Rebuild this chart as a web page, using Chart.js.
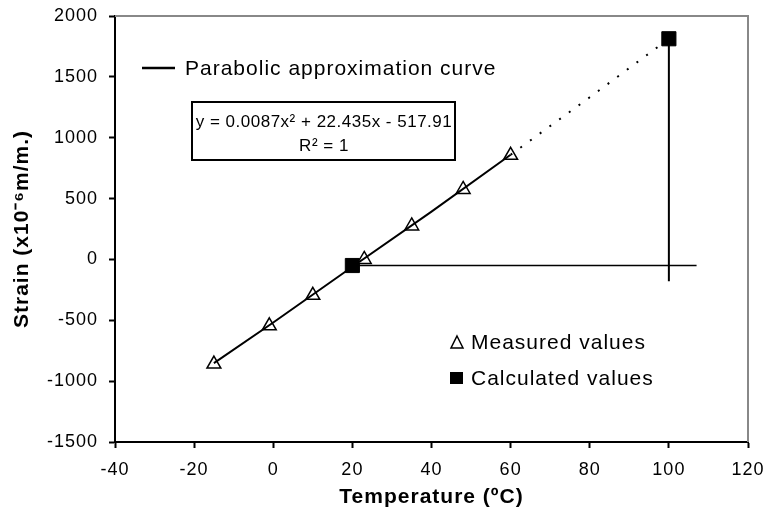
<!DOCTYPE html>
<html>
<head>
<meta charset="utf-8">
<script src="https://cdn.jsdelivr.net/npm/chart.js@4/dist/chart.umd.min.js"></script>
<style>
  html, body { margin: 0; padding: 0; background: #fff; }
  #wrap { width: 765px; height: 519px; }
</style>
</head>
<body>
<div id="wrap"><canvas id="chart" width="765" height="519"></canvas></div>
<script>
// Values
const measuredTemp = [-15, -1, 10, 23, 35, 48, 60];
const measuredStrain = [-860, -545, -295, 0, 275, 575, 855];

const calculatedTemp = [20, 100];
const calculatedStrain = [-50, 1813];

// Parabolic approximation curve (solid part and dotted extrapolation)
const curveTemp = [-15, 0, 20, 40, 60];
const curveStrain = [-852, -518, -60, 393, 860];
const extrapTemp = [60, 80, 100];
const extrapStrain = [860, 1332, 1813];

// Guide lines from the calculated points
const hGuideTemp = [20, 107];
const hGuideStrain = [-50, -50];
const vGuideTemp = [100, 100];
const vGuideStrain = [1813, -180];

const xTicks = [-40, -20, 0, 20, 40, 60, 80, 100, 120];
const yTicks = [-1500, -1000, -500, 0, 500, 1000, 1500, 2000];

const FONT = "'Liberation Sans', Arial, sans-serif";

function toPoints(xs, ys) {
    return xs.map((x, i) => ({ x: x, y: ys[i] }));
}

// The original uses a wide, loosely spaced font
const spacing = {
    id: 'spacing',
    beforeDraw(chart) {
        chart.ctx.letterSpacing = '1px';
    }
};

// Legend texts, equation box and plot frame
const annotations = {
    id: 'annotations',
    afterDraw(chart) {
        const ctx = chart.ctx;
        const area = chart.chartArea;
        ctx.save();

        // gray frame on top and right
        ctx.strokeStyle = '#888';
        ctx.lineWidth = 2;
        ctx.beginPath();
        ctx.moveTo(area.left, area.top);
        ctx.lineTo(area.right, area.top);
        ctx.lineTo(area.right, area.bottom);
        ctx.stroke();

        ctx.fillStyle = '#000';
        ctx.strokeStyle = '#000';

        // curve legend
        ctx.lineWidth = 2.5;
        ctx.beginPath();
        ctx.moveTo(142, 68);
        ctx.lineTo(175, 68);
        ctx.stroke();
        ctx.letterSpacing = '1px';
        ctx.font = '21px ' + FONT;
        ctx.textAlign = 'left';
        ctx.textBaseline = 'middle';
        ctx.fillText('Parabolic approximation curve', 185, 69);

        // equation box
        ctx.lineWidth = 2;
        ctx.strokeRect(192, 102, 263, 58);
        ctx.letterSpacing = '0.5px';
        ctx.font = '17px ' + FONT;
        ctx.textAlign = 'center';
        ctx.fillText('y = 0.0087x² + 22.435x - 517.91', 324, 122);
        ctx.fillText('R² = 1', 324, 146);

        // markers legend
        ctx.lineWidth = 1.5;
        ctx.beginPath();
        ctx.moveTo(457, 336);
        ctx.lineTo(463, 348);
        ctx.lineTo(451, 348);
        ctx.closePath();
        ctx.stroke();
        ctx.fillRect(450, 372, 13, 12);
        ctx.letterSpacing = '1px';
        ctx.font = '21px ' + FONT;
        ctx.textAlign = 'left';
        ctx.fillText('Measured values', 471, 343);
        ctx.fillText('Calculated values', 471, 379);

        ctx.restore();
    }
};

new Chart(document.getElementById('chart'), {
    type: 'scatter',
    data: {
        datasets: [
            {
                label: 'Curve',
                data: toPoints(curveTemp, curveStrain),
                showLine: true,
                borderColor: '#000',
                borderWidth: 2,
                pointRadius: 0
            },
            {
                label: 'Extrapolation',
                data: toPoints(extrapTemp, extrapStrain),
                showLine: true,
                borderColor: '#000',
                borderWidth: 2,
                borderDash: [2, 10],
                pointRadius: 0
            },
            {
                label: 'Horizontal guide',
                data: toPoints(hGuideTemp, hGuideStrain),
                showLine: true,
                borderColor: '#000',
                borderWidth: 1.5,
                pointRadius: 0
            },
            {
                label: 'Vertical guide',
                data: toPoints(vGuideTemp, vGuideStrain),
                showLine: true,
                borderColor: '#000',
                borderWidth: 2,
                pointRadius: 0
            },
            {
                label: 'Measured values',
                data: toPoints(measuredTemp, measuredStrain),
                pointStyle: 'triangle',
                pointRadius: 8,
                backgroundColor: '#fff',
                borderColor: '#000',
                borderWidth: 1.5
            },
            {
                label: 'Calculated values',
                data: toPoints(calculatedTemp, calculatedStrain),
                pointStyle: 'rect',
                pointRadius: 10,
                backgroundColor: '#000',
                borderColor: '#000',
                borderWidth: 1
            }
        ]
    },
    options: {
        responsive: false,
        animation: false,
        layout: { padding: { top: 16, right: 17, left: 0, bottom: 0 } },
        scales: {
            x: {
                type: 'linear',
                min: -40,
                max: 120,
                afterBuildTicks: scale => { scale.ticks = xTicks.map(v => ({ value: v })); },
                afterFit: scale => {
                    scale.height = 77;
                    scale.paddingLeft = 0;
                    scale.paddingRight = 0;
                },
                border: { display: true, color: '#000', width: 2 },
                grid: { drawOnChartArea: false, drawTicks: true, tickLength: 6, tickColor: '#000', tickWidth: 2 },
                ticks: {
                    color: '#000',
                    font: { family: FONT, size: 18 },
                    padding: 11,
                    maxRotation: 0,
                    callback: value => String(value)
                },
                title: {
                    display: true,
                    text: 'Temperature (ºC)',
                    color: '#000',
                    font: { family: FONT, size: 21, weight: 'bold' },
                    padding: { top: 4, bottom: 9 }
                }
            },
            y: {
                type: 'linear',
                min: -1500,
                max: 2000,
                afterBuildTicks: scale => { scale.ticks = yTicks.map(v => ({ value: v })); },
                afterFit: scale => {
                    scale.width = 115;
                    scale.paddingTop = 0;
                    scale.paddingBottom = 0;
                },
                border: { display: true, color: '#000', width: 2 },
                grid: { drawOnChartArea: false, drawTicks: true, tickLength: 6, tickColor: '#000', tickWidth: 2 },
                ticks: {
                    color: '#000',
                    font: { family: FONT, size: 18 },
                    padding: 11,
                    callback: value => String(value)
                },
                title: {
                    display: true,
                    text: 'Strain (x10⁻⁶m/m.)',
                    color: '#000',
                    font: { family: FONT, size: 21, weight: 'bold' },
                    padding: { top: 10, bottom: 0 }
                }
            }
        },
        plugins: {
            legend: { display: false },
            tooltip: { enabled: false }
        }
    },
    plugins: [spacing, annotations]
});
</script>
</body>
</html>
